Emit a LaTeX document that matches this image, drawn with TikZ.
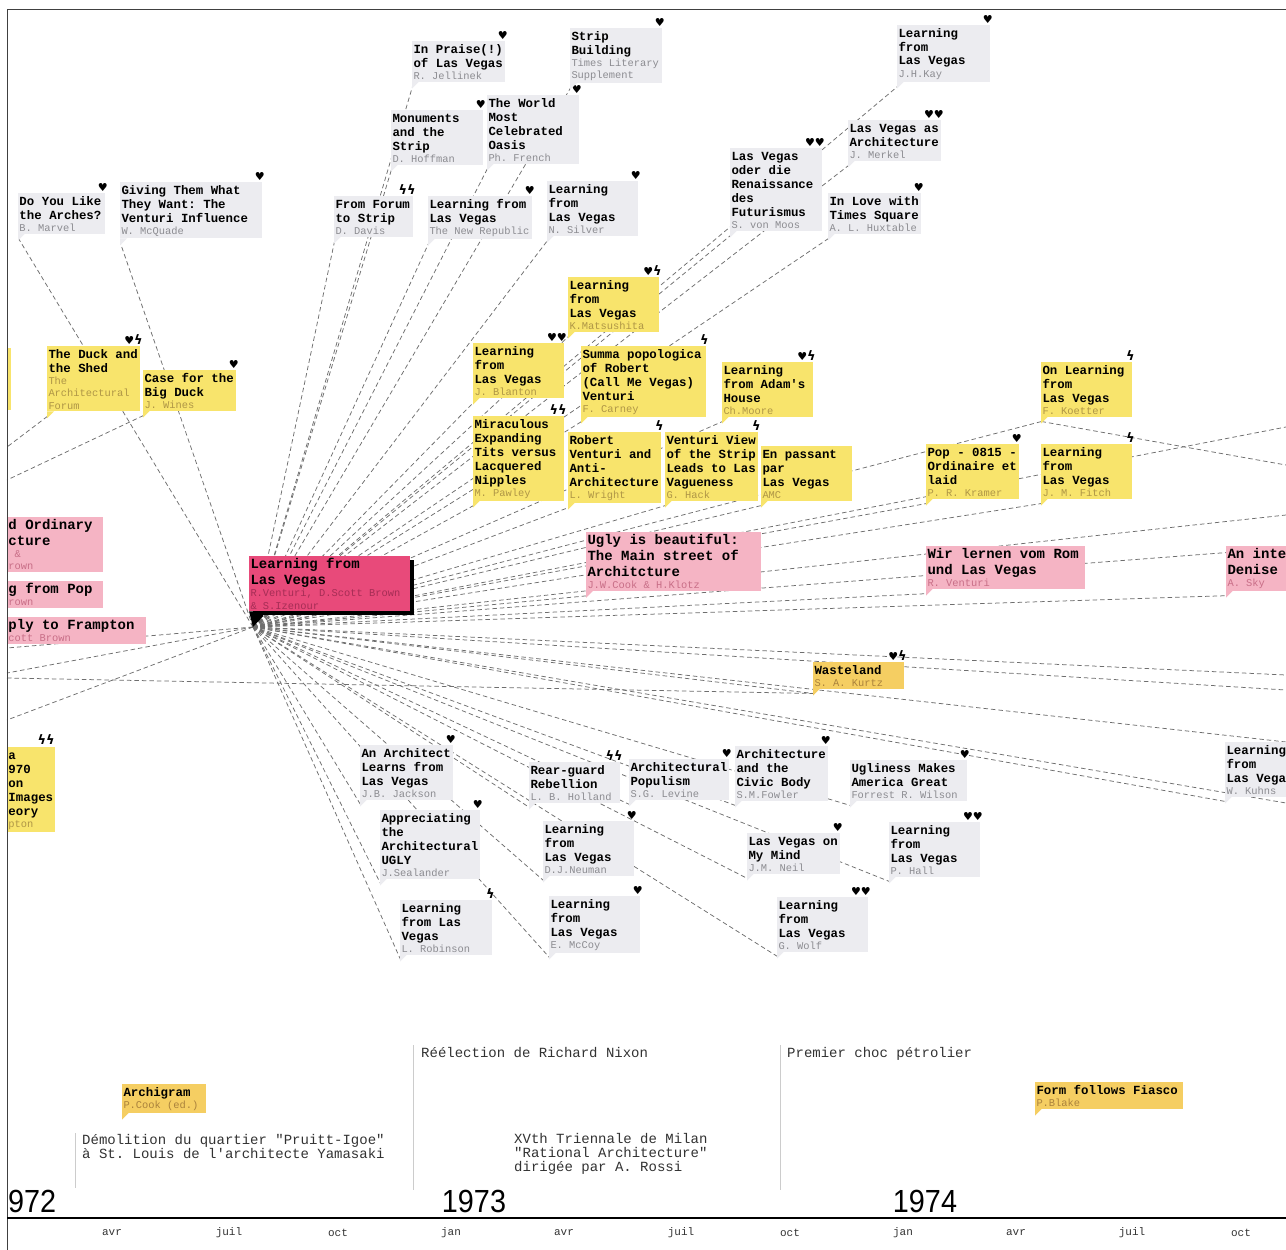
\documentclass[tikz,border=0pt]{standalone}
\usepackage{fontspec}
\usepackage{graphicx}
\usetikzlibrary{shadows}
\newfontfamily\mono{Liberation Mono}[Ligatures=TeXOff]
\newfontfamily\symf{DejaVu Sans}
\newfontfamily\yearfont{Liberation Sans}
\frenchspacing
\definecolor{fg}{RGB}{236,236,240}
\definecolor{ag}{RGB}{140,140,145}
\definecolor{fy}{RGB}{248,228,108}
\definecolor{ay}{RGB}{175,150,70}
\definecolor{fo}{RGB}{245,206,98}
\definecolor{ao}{RGB}{170,130,60}
\definecolor{fp}{RGB}{245,180,196}
\definecolor{ap}{RGB}{200,110,135}
\definecolor{hot}{RGB}{232,74,122}
\definecolor{hotaut}{RGB}{165,45,85}
\definecolor{linkc}{RGB}{110,110,110}
\definecolor{evc}{RGB}{50,50,50}
\newcommand\ttlf{\mono\bfseries\fontsize{12.4}{14}\selectfont\spaceskip=0pt\xspaceskip=0pt\frenchspacing\relax}
\newcommand\bigttlf{\mono\bfseries\fontsize{14}{16}\selectfont\spaceskip=0pt\xspaceskip=0pt\frenchspacing\relax}
\newcommand\autf{\mono\fontsize{10.4}{12.4}\selectfont\spaceskip=0pt\xspaceskip=0pt\frenchspacing\relax}
\newcommand\evtf{\mono\fontsize{14}{14}\selectfont\frenchspacing}
\newcommand\monthf{\mono\fontsize{11}{12}\selectfont}
\newcommand\tfg{\ttlf}
\newcommand\tfy{\ttlf}
\newcommand\tfo{\ttlf}
\newcommand\tfp{\bigttlf}
\newcommand\bolt{{\fontsize{13}{11}\selectfont ϟ}}
\pgfdeclarelayer{back}
\pgfdeclarelayer{bg}
\pgfsetlayers{back,bg,main}
\tikzset{
  box/.style={anchor=north west, align=left, inner xsep=1.5pt, inner ysep=2pt, outer sep=0pt},
  icon/.style={font=\symf\bfseries\fontsize{11}{11}\selectfont, inner sep=0pt, anchor=south east},
  link/.style={draw=linkc, line width=0.75pt, dash pattern=on 4.5pt off 3pt},
  evt/.style={font=\evtf, text=evc, inner sep=0pt, align=left},
  month/.style={font=\monthf, text=black!80, inner sep=0pt},
  yr/.style={font=\yearfont\fontsize{32}{32}\selectfont, inner sep=0pt},
  vline/.style={draw=black!20, line width=0.6pt}
}
% name, x, y, text width, kind, title, author, icons
\newcommand\bx[8]{%
  \node[box, fill=f#5, text width=#4pt] (#1) at (#2,#3)
    {{\csname tf#5\endcsname\rule{0pt}{10pt}#6\par}{\autf\color{a#5}#7\par}};
  \fill[f#5] (#1.south west) -- ++(7,0) -- ++(-7,7) -- cycle;
  \coordinate (#1-t) at ([shift={(0.5,5)}]#1.south west);
  \if\relax\detokenize{#8}\relax\else
  \node[icon] (#1-i) at ([xshift=3pt,yshift=1pt]#1.north east) {#8};\fi
}
% partial boxes without tail
\newcommand\px[7]{%
  \node[box, fill=f#5, text width=#4pt] (#1) at (#2,#3)
    {{\csname tf#5\endcsname\rule{0pt}{10pt}#6\par}{\autf\color{a#5}#7\par}};
}
\begin{document}
\begin{tikzpicture}[x=1pt,y=-1pt]
\useasboundingbox (0,0) rectangle (1286,1250);
\begin{pgfonlayer}{back}
\fill[white] (0,0) rectangle (1286,1250);
\end{pgfonlayer}
\coordinate (C) at (253,627);

\begin{scope}
\clip (7,9) rectangle (1286,1250);
% ---- top gray boxes
\bx{arches}{18}{193}{84}{g}{Do You Like\\the Arches?}{B. Marvel}{♥}
\bx{giving}{120}{182}{139}{g}{Giving Them What\\They Want: The\\Venturi Influence}{W. McQuade}{♥}
\bx{forum}{334}{196}{76}{g}{From Forum\\to Strip}{D. Davis}{\bolt\bolt}
\bx{nrep}{428}{196}{101}{g}{Learning from\\Las Vegas}{The New Republic}{♥}
\bx{silver}{547}{181}{88}{g}{Learning\\from\\Las Vegas}{N. Silver}{♥}
\bx{monu}{391}{110}{89}{g}{Monuments\\and the\\Strip}{D. Hoffman}{♥}
\bx{world}{487}{95}{89}{g}{The World\\Most\\Celebrated\\Oasis}{Ph. French}{♥}
\bx{praise}{412}{41}{90}{g}{In Praise(!)\\of Las Vegas}{R. Jellinek}{♥}
\bx{strip}{570}{28}{89}{g}{Strip\\Building}{Times Literary\\Supplement}{♥}
\bx{kay}{897}{25}{90}{g}{Learning\\from\\Las Vegas}{J.H.Kay}{♥}
\bx{merkel}{848}{120}{90}{g}{Las Vegas as\\Architecture}{J. Merkel}{♥♥}
\bx{moos}{730}{148}{89}{g}{Las Vegas\\oder die\\Renaissance\\des\\Futurismus}{S. von Moos}{♥♥}
\bx{love}{828}{193}{90}{g}{In Love with\\Times Square}{A. L. Huxtable}{♥}
% ---- yellow boxes
\fill[fy] (7,348) rectangle (11,410);
\bx{duck}{47}{346}{90}{y}{The Duck and\\the Shed}{The\\Architectural\\Forum}{♥\bolt}
\bx{case}{143}{370}{90}{y}{Case for the\\Big Duck}{J. Wines}{♥}
\bx{matsu}{568}{277}{88}{y}{Learning\\from\\Las Vegas}{K.Matsushita}{♥\bolt}
\bx{blanton}{473}{343}{88}{y}{Learning\\from\\Las Vegas}{J. Blanton}{♥♥}
\bx{summa}{581}{346}{122}{y}{Summa popologica\\of Robert\\(Call Me Vegas)\\Venturi}{F. Carney}{\bolt}
\bx{adam}{722}{362}{88}{y}{Learning\\from Adam's\\House}{Ch.Moore}{♥\bolt}
\bx{mirac}{473}{416}{88}{y}{Miraculous\\Expanding\\Tits versus\\Lacquered\\Nipples}{M. Pawley}{\bolt\bolt}
\bx{robert}{568}{432}{90}{y}{Robert\\Venturi and\\Anti-\\Architecture}{L. Wright}{\bolt}
\bx{view}{665}{432}{90}{y}{Venturi View\\of the Strip\\Leads to Las\\Vagueness}{G. Hack}{\bolt}
\bx{passant}{761}{446}{88}{y}{En passant\\par\\Las Vegas}{AMC}{}
\bx{koetter}{1041}{362}{88}{y}{On Learning\\from\\Las Vegas}{F. Koetter}{\bolt}
\bx{pop}{926}{444}{90}{y}{Pop - 0815 -\\Ordinaire et\\laid}{P. R. Kramer}{♥}
\bx{fitch}{1041}{444}{88}{y}{Learning\\from\\Las Vegas}{J. M. Fitch}{\bolt}
\px{framp}{7}{747}{45}{y}{a\\970\\on\\Images\\eory}{pton}
\node[icon] (framp-i) at (55,745) {\bolt\bolt};
\bx{waste}{813}{662}{88}{o}{Wasteland}{S. A. Kurtz}{♥\bolt}
\bx{archi}{122}{1084}{81}{o}{Archigram}{P.Cook (ed.)}{}
\bx{fiasco}{1035}{1082}{145}{o}{Form follows Fiasco}{P.Blake}{}
% ---- pink boxes
\px{ord}{7}{517}{93}{p}{d Ordinary\\cture}{\hspace*{6pt}\&\\rown}
\px{lpop}{7}{581}{93}{p}{g from Pop}{rown}
\px{reply}{7}{617}{136}{p}{ply to Frampton}{cott Brown}
\bx{ugly}{586}{532}{172}{p}{Ugly is beautiful:\\The Main street of\\Architcture}{J.W.Cook \& H.Klotz}{}
\bx{wir}{926}{546}{156}{p}{Wir lernen vom Rom\\und Las Vegas}{R. Venturi}{}
\bx{inte}{1226}{546}{100}{p}{An inte\\Denise}{A. Sky}{}
% ---- lower gray boxes
\bx{jackson}{360}{745}{90}{g}{An Architect\\Learns from\\Las Vegas}{J.B. Jackson}{♥}
\bx{seal}{380}{810}{97}{g}{Appreciating\\the\\Architectural\\UGLY}{J.Sealander}{♥}
\bx{robinson}{400}{900}{89}{g}{Learning\\from Las\\Vegas}{L. Robinson}{\bolt}
\bx{holland}{529}{762}{88}{g}{Rear-guard\\Rebellion}{L. B. Holland}{\bolt\bolt}
\bx{levine}{629}{759}{97}{g}{Architectural\\Populism}{S.G. Levine}{♥}
\bx{fowler}{735}{746}{90}{g}{Architecture\\and the\\Civic Body}{S.M.Fowler}{♥}
\bx{wilson}{850}{760}{114}{g}{Ugliness Makes\\America Great}{Forrest R. Wilson}{♥}
\bx{neuman}{543}{821}{88}{g}{Learning\\from\\Las Vegas}{D.J.Neuman}{♥}
\bx{neil}{747}{833}{90}{g}{Las Vegas on\\My Mind}{J.M. Neil}{♥}
\bx{hall}{889}{822}{88}{g}{Learning\\from\\Las Vegas}{P. Hall}{♥♥}
\bx{mccoy}{549}{896}{88}{g}{Learning\\from\\Las Vegas}{E. McCoy}{♥}
\bx{wolf}{777}{897}{88}{g}{Learning\\from\\Las Vegas}{G. Wolf}{♥♥}
\bx{kuhns}{1225}{742}{100}{g}{Learning\\from\\Las Vega}{W. Kuhns}{}
% ---- central node
\node[box, fill=hot, text width=158pt,
  drop shadow={shadow xshift=4pt, shadow yshift=-4pt, fill=black, opacity=1}]
  (main) at (249,556)
  {{\bigttlf\rule{0pt}{10pt}Learning from\\Las Vegas\par}{\autf\color{hotaut}R.Venturi, D.Scott Brown\\\& S.Izenour\par}};
\fill[black] (main.south west) -- ++(14,0) -- ++(0,5) -- (C) -- cycle;
\end{scope}

% ---- free ends
\coordinate (eL1) at (7,447);
\coordinate (eL2) at (7,480);
\coordinate (eL3) at (7,648);
\coordinate (eL4) at (7,673);
\coordinate (eL5) at (7,720);
\coordinate (eL6) at (7,678);
\coordinate (eR1) at (1286,427);
\coordinate (eR2) at (1286,465);
\coordinate (eR3) at (1286,515);
\coordinate (eR4) at (1286,548);
\coordinate (eR5) at (1286,675);
\coordinate (eR6) at (1286,690);
\coordinate (eR7) at (1286,742);
\coordinate (eR8) at (1286,803);

\begin{pgfonlayer}{bg}
\foreach \n in {arches,giving,forum,monu,praise,nrep,world,strip,silver,matsu,blanton,summa,adam,mirac,robert,view,passant,moos,kay,merkel,love,koetter,pop,fitch,ugly,wir,inte,jackson,seal,robinson,holland,levine,fowler,wilson,neuman,neil,hall,mccoy,wolf,waste,kuhns}
  \draw[link] (C) -- (\n-t);
\draw[link] (duck-t) -- (eL1);
\draw[link] (case-t) -- (eL2);
\draw[link] (C) -- (eL3);
\draw[link] (C) -- (eL4);
\draw[link] (C) -- (eL5);
\draw[link] (eL6) -- (waste-t);
\draw[link] (koetter-t) -- (eR2);
\foreach \e in {eR1,eR3,eR4,eR5,eR6,eR7,eR8}
  \draw[link] (C) -- (\e);
\end{pgfonlayer}

% ---- frame
\draw[black!75, line width=1pt] (7,1250) -- (7,9) -- (1286,9);

% ---- events
\draw[vline] (75,1133) -- (75,1188);
\draw[vline] (413,1045) -- (413,1190);
\draw[vline] (780,1045) -- (780,1190);
\node[evt, anchor=base west] (ev1) at (421,1057) {Réélection de Richard Nixon};
\node[evt, anchor=base west] (ev2) at (787,1057) {Premier choc pétrolier};
\node[evt, anchor=north west] (ev3) at (82,1134) {Démolition du quartier "Pruitt-Igoe"\\à St. Louis de l'architecte Yamasaki};
\node[evt, anchor=north west] (ev4) at (514,1133) {XVth Triennale de Milan\\"Rational Architecture"\\dirigée par A. Rossi};

% ---- timeline
\draw[line width=2.5pt] (7,1218) -- (1286,1218);
\node[yr, anchor=base west] (y72) at (8,1212) {\scalebox{0.9}[1]{972}};
\node[yr, anchor=base] (y73) at (474,1212) {\scalebox{0.9}[1]{1973}};
\node[yr, anchor=base] (y74) at (925,1212) {\scalebox{0.9}[1]{1974}};
\foreach \x/\m [count=\i] in {112/avr,229/juil,338/oct,451/jan,564/avr,681/juil,790/oct,903/jan,1016/avr,1132/juil,1241/oct}
  \node[month] (m\i) at (\x,1233) {\m};
\end{tikzpicture}
\end{document}
